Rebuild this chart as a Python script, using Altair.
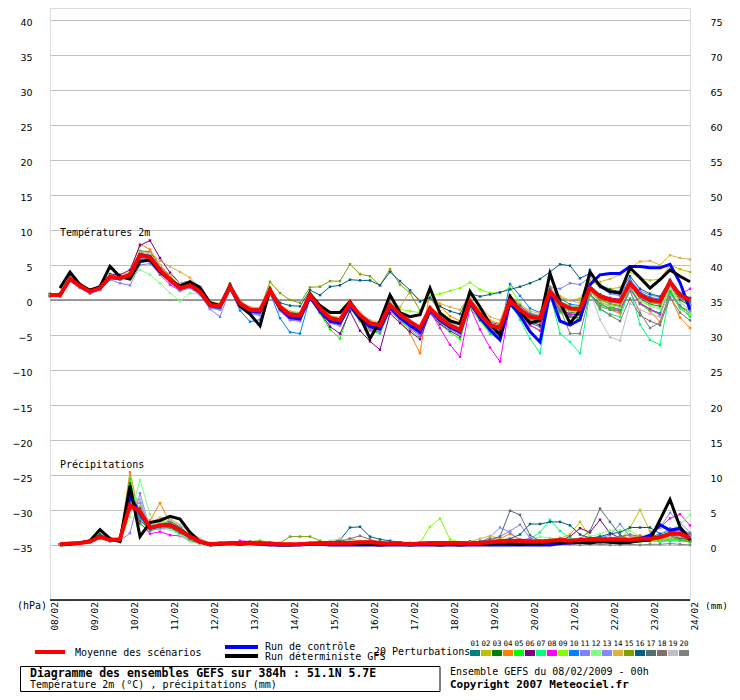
import altair as alt
import pandas as pd

# ---------------- data ----------------
HOURS = list(range(0, 385, 6))            # 08/02 00h ... 24/02 00h, every 6 h
DAY_TICKS = list(range(0, 385, 24))
DAY_LABELS = ["08/02", "09/02", "10/02", "11/02", "12/02", "13/02", "14/02", "15/02",
              "16/02", "17/02", "18/02", "19/02", "20/02", "21/02", "22/02", "23/02", "24/02"]
LEFT_TICKS = list(range(-35, 41, 5))
PRECIP_BASE = -35                         # 0 mm sits on the -35 line

MEMBERS = ["01", "02", "03", "04", "05", "06", "07", "08", "09", "10",
           "11", "12", "13", "14", "15", "16", "17", "18", "19", "20"]
MEMBER_COLORS = ["#008080", "#c0c000", "#008000", "#ff8000", "#00ff00",
                 "#800080", "#00ff80", "#ff00ff", "#80ff00", "#0080ff",
                 "#8080ff", "#80ff80", "#8888f8", "#e0b040", "#80a000",
                 "#006080", "#507070", "#807070", "#c0c0c0", "#808080"]

# temperature 2m (deg C), 65 values from 0 h
MEAN_T = [0.7, 0.7, 3.0, 2.0, 1.2, 1.7, 3.3, 3.1, 3.6, 6.4, 6.1, 4.3, 2.9, 1.7, 2.1,
          1.2, -0.7, -0.9, 1.9, -0.5, -1.4, -1.5, 1.4, -1.0, -2.1, -2.2, 0.7, -1.2, -2.6, -2.9,
          -0.4, -2.2, -3.3, -3.6, -0.7, -2.1, -3.1, -4.0, -1.2, -2.6, -3.6, -4.3, -0.2, -2.1, -3.6,
          -4.0, -0.1, -1.4, -2.4, -2.6, 1.2, -0.5, -1.2, -1.3, 1.7, 0.5, 0.0, -0.2, 2.4, 0.7,
          0.0, -0.2, 2.6, 0.7, 0.0]
CTRL_T = [0.7, 0.7, 3.0, 2.0, 1.2, 1.7, 3.3, 3.1, 3.6, 6.5, 6.2, 4.4, 2.9, 1.7, 2.1,
          1.1, -0.8, -1.0, 1.8, -0.7, -1.6, -1.7, 1.3, -1.2, -2.5, -2.7, 0.4, -1.6, -3.0, -3.3,
          -0.8, -2.7, -3.8, -4.1, -1.1, -2.5, -3.6, -4.6, -1.4, -2.9, -3.9, -4.6, -0.4, -2.5, -4.3,
          -5.7, -0.4, -2.2, -4.5, -6.0, 1.0, -3.0, -3.6, -2.8, 2.2, 3.6, 3.8, 3.8, 4.8, 4.8,
          4.6, 4.6, 5.1, 2.5, -1.4]
# deterministic GFS starts at 6 h (64 values)
DET_T = [1.7, 4.0, 2.2, 1.4, 1.9, 4.8, 3.3, 3.0, 5.5, 5.7, 4.0, 2.9, 2.0, 2.6,
         1.8, -0.4, -0.8, 2.1, -0.9, -2.0, -3.7, 1.5, -1.2, -2.0, -2.2, 0.9, -0.8, -1.8, -1.8,
         -0.2, -2.4, -5.5, -3.0, 0.7, -1.8, -2.4, -2.1, 1.7, -1.9, -3.0, -3.4, 1.2, -1.0, -3.4,
         -5.0, 0.5, -1.6, -3.3, -2.9, 3.8, -0.3, -3.3, -1.5, 4.0, 2.0, 1.2, 1.0, 4.6, 3.2,
         1.7, 2.9, 4.3, 3.4, 2.6]

T01 = [0.9, 0.8, 3.2, 2.1, 1.3, 1.9, 3.6, 3.2, 3.8, 6.8, 6.5, 4.6, 3.1, 1.9, 2.4,
       1.4, -0.5, -0.8, 2.1, -0.3, -1.3, -1.6, 1.5, -0.8, -2.0, -2.4, 0.6, -1.5, -3.0, -3.3,
       -0.9, -2.8, -4.0, -4.3, -1.2, -2.6, -3.5, -4.6, -1.5, -3.1, -4.0, -4.8, -0.5, -2.6, -4.2,
       -4.9, -0.8, -2.0, -3.3, -3.8, 0.3, -1.5, -2.2, -2.6, 0.8, -0.5, -1.2, -1.6, 1.5, -0.4,
       -1.3, -1.9, 1.2, -0.8, -2.0]
T02 = [0.6, 0.7, 2.9, 1.9, 1.0, 1.6, 3.2, 3.0, 3.5, 6.6, 6.3, 4.4, 2.8, 1.6, 2.0,
       1.0, -0.9, -1.1, 1.8, -0.6, -1.7, -1.8, 1.2, -1.3, -2.5, -2.6, 0.4, -1.6, -3.2, -3.4,
       -0.8, -2.7, -3.9, -4.2, -1.0, -2.4, -3.4, -4.4, -1.4, -2.8, -3.8, -4.5, -0.3, -2.2, -3.8,
       -4.2, -0.3, -1.2, -2.0, -2.4, 1.5, 0.3, 0.0, 0.2, 2.8, 1.9, 1.6, 1.8, 4.0, 3.1,
       2.8, 3.0, 5.0, 4.4, 4.0]
T03 = [0.8, 0.6, 3.1, 2.2, 1.4, 1.8, 3.4, 3.3, 3.9, 7.0, 6.9, 4.9, 3.4, 2.0, 2.5,
       1.6, -0.4, -0.6, 2.3, -0.2, -1.1, -1.3, 1.7, -0.7, -1.8, -1.9, 0.9, -0.9, -2.3, -2.7,
       -0.6, -2.5, -3.6, -3.9, -0.9, -2.3, -3.3, -4.3, -1.0, -2.4, -3.4, -4.0, 0.3, -1.7, -3.2,
       -3.5, 0.2, -1.1, -2.3, -2.8, 1.0, -0.9, -1.7, -2.0, 1.9, 0.2, -0.6, -0.9, 2.2, 0.2,
       -0.6, -0.9, 2.1, 0.0, -0.8]
T04 = [0.7, 0.8, 3.3, 2.0, 1.1, 1.8, 3.5, 3.4, 4.0, 8.0, 7.2, 5.0, 3.3, 2.0, 2.3,
       1.2, -0.8, -1.0, 1.8, -0.7, -1.6, -1.6, 1.4, -1.1, -2.3, -2.5, 0.5, -1.4, -2.9, -3.2,
       -0.5, -2.4, -3.6, -4.0, -1.1, -3.0, -4.8, -7.6, 1.4, -0.8, -2.3, -3.0, 0.2, -1.5, -2.9,
       -3.4, 0.3, -1.0, -2.2, -2.6, 0.9, -0.8, -1.5, -1.8, 1.3, -0.3, -1.4, -1.9, 1.7, -0.5,
       -1.6, -3.1, 0.5, -2.5, -4.0]
T05 = [0.6, 0.5, 2.8, 1.8, 1.0, 1.5, 3.1, 2.9, 3.4, 6.2, 6.0, 4.1, 2.7, 1.5, 1.9,
       1.0, -1.0, -1.2, 1.7, -0.8, -1.8, -1.9, 1.1, -1.3, -2.6, -2.9, 0.2, -1.9, -4.2, -5.5,
       -1.2, -3.0, -4.4, -4.8, -1.6, -2.9, -4.2, -5.4, -1.8, -3.5, -4.6, -5.6, -1.1, -3.0, -4.8,
       -5.6, -0.9, -2.2, -3.6, -4.3, 0.2, -1.8, -2.4, -2.7, 0.6, -0.7, -1.2, -1.3, 1.6, -0.6,
       -1.5, -2.0, 1.5, -1.0, -2.4]
T06 = [0.8, 0.9, 3.4, 2.3, 1.5, 2.0, 3.7, 3.6, 4.3, 7.8, 8.5, 6.0, 3.9, 2.4, 2.7,
       1.7, -0.3, -0.7, 2.0, -0.4, -1.3, -1.4, 1.5, -1.0, -2.2, -2.3, 0.5, -1.8, -3.8, -4.8,
       -1.6, -4.4, -5.9, -7.1, -1.9, -3.3, -4.5, -5.6, -1.9, -3.4, -4.4, -5.2, -0.6, -2.8, -4.3,
       -5.0, -0.6, -1.9, -3.0, -3.6, 0.6, -1.2, -2.0, -2.1, 1.3, 0.8, 0.3, 0.1, 2.6, 1.0,
       0.2, 0.0, 2.4, 0.4, -0.7]
T07 = [0.7, 0.6, 2.9, 2.0, 1.2, 1.7, 3.3, 3.0, 3.5, 6.1, 5.8, 4.2, 2.8, 1.6, 2.0,
       1.1, -0.8, -1.0, 1.8, -0.6, -1.5, -1.6, 1.2, -1.1, -2.3, -2.4, 0.5, -1.4, -2.8, -3.1,
       -0.7, -2.5, -3.6, -4.0, -1.0, -2.4, -3.4, -4.3, -1.5, -2.9, -3.9, -4.6, -0.7, -2.6, -4.1,
       -4.6, -0.3, -2.8, -5.5, -7.6, 0.9, -4.8, -6.0, -7.6, 1.0, -1.4, -2.0, -2.4, 1.5, -3.5,
       -5.7, -6.4, 1.0, -1.2, -2.2]
T08 = [0.7, 0.7, 3.0, 2.1, 1.3, 1.6, 3.2, 3.0, 3.3, 5.9, 5.4, 3.6, 2.2, 1.3, 1.8,
       0.9, -1.1, -1.3, 1.6, -0.8, -1.8, -2.0, 1.0, -1.5, -2.8, -3.0, 0.3, -1.7, -3.2, -3.6,
       -0.6, -2.8, -4.2, -4.6, -1.3, -2.8, -4.0, -5.1, -1.6, -4.0, -6.4, -8.1, -1.0, -4.2, -6.8,
       -8.8, -0.6, -2.3, -3.6, -4.4, 0.5, -1.3, -2.0, -2.2, 1.4, -0.2, -0.9, -1.4, 1.8, -0.5,
       -1.3, -2.1, 1.9, 0.8, 1.6]
T09 = [0.6, 0.7, 2.9, 1.9, 1.1, 1.7, 3.2, 3.1, 3.6, 6.5, 6.2, 4.4, 3.0, 1.8, 2.2,
       1.3, -0.6, -0.9, 1.9, -0.5, -1.4, -1.5, 1.5, -0.9, -2.0, -2.1, 0.8, -1.1, -2.4, -2.8,
       -0.3, -2.0, -3.1, -3.4, -0.4, -1.3, -1.6, -1.8, 0.6, 0.9, 1.3, 1.7, 2.5, 1.5, 1.0,
       1.0, 1.8, -0.5, -1.8, -2.3, 1.4, -0.2, -0.8, -1.0, 1.9, 0.1, -0.6, -0.8, 2.1, -0.1,
       -0.9, -1.2, 1.8, -1.0, -2.0]
T10 = [0.5, 0.6, 2.8, 1.8, 1.0, 1.5, 3.0, 2.9, 3.4, 6.3, 5.9, 4.0, 2.6, 1.4, 1.9,
       0.9, -1.0, -1.3, 1.6, -1.5, -3.1, -2.8, 1.0, -2.6, -4.6, -4.8, 0.3, -1.6, -3.0, -3.3,
       -0.8, -2.6, -3.7, -4.0, -1.1, -2.5, -3.6, -4.5, -1.3, -2.7, -3.8, -4.5, -0.4, -2.3, -3.9,
       -4.4, 2.3, 0.6, -1.2, -1.8, 1.6, 0.2, -0.6, -0.8, 4.3, 2.0, 1.2, 0.8, 3.0, 1.1,
       0.4, 0.1, 2.7, 0.9, 0.2]
T11 = [0.6, 0.5, 2.7, 1.7, 0.9, 1.4, 2.9, 2.4, 2.1, 5.0, 5.2, 3.8, 2.5, 1.3, 1.7,
       0.7, -1.3, -2.4, 1.5, -0.9, -1.9, -2.1, 1.1, -1.4, -2.6, -2.7, 0.4, -1.5, -2.9, -3.2,
       -0.5, -2.4, -3.5, -3.9, -0.6, -2.2, -3.2, -4.1, -1.0, -2.4, -3.4, -4.1, 0.1, -1.8, -3.3,
       -3.8, 0.5, -0.9, -1.9, -2.2, 1.8, 1.6, 2.4, 2.2, 3.3, 1.8, 0.9, 0.6, 2.9, 1.3,
       0.7, 0.4, 2.8, 1.0, 0.1]
T12 = [0.8, 0.7, 3.1, 2.0, 1.2, 1.8, 4.8, 3.4, 3.0, 4.3, 3.6, 2.4, 1.0, -0.2, 1.0,
       0.8, -0.9, -1.1, 1.6, -0.7, -1.6, -1.7, 1.3, -1.1, -2.3, -2.4, 0.5, -1.3, -2.7, -3.0,
       -0.5, -2.3, -3.4, -3.7, -0.7, -2.2, -3.2, -4.1, -1.2, -2.6, -3.6, -4.3, -0.3, -2.2, -3.7,
       -4.1, -0.3, -1.6, -2.7, -3.0, 0.7, -1.0, -1.6, -1.8, 1.2, -0.2, -0.8, -1.1, 1.9, 0.0,
       -0.8, -1.3, 1.6, -0.3, -1.5]
T13 = [0.6, 0.6, 2.9, 1.9, 1.1, 1.6, 3.2, 3.0, 3.5, 6.0, 5.7, 4.0, 2.6, 1.4, 1.8,
       0.9, -1.2, -1.4, 1.5, -1.0, -2.0, -2.2, 0.9, -1.6, -2.9, -3.0, 0.1, -1.8, -3.3, -3.7,
       -1.0, -3.0, -4.1, -4.5, -1.4, -2.9, -3.9, -4.9, -1.7, -3.2, -4.2, -5.0, -0.8, -2.7, -4.3,
       -4.8, -0.2, -1.5, -2.8, -3.1, 1.4, -0.8, -1.4, -1.5, 2.0, 0.4, -0.3, -0.5, 2.3, 0.4,
       -0.4, -0.6, 2.3, 0.4, -0.7]
T14 = [0.9, 0.9, 3.2, 2.2, 1.4, 1.9, 3.5, 3.3, 3.9, 6.9, 6.8, 5.6, 4.8, 4.0, 3.2,
       1.8, -0.2, -0.5, 2.1, -0.2, -1.0, -1.1, 1.8, -0.6, -1.6, -1.8, 0.9, -1.0, -2.2, -2.5,
       -0.1, -1.8, -2.9, -3.2, -0.3, -1.0, 1.2, 0.0, 0.4, -0.5, -1.0, -1.4, 0.8, -0.9, -2.4,
       -2.9, 0.7, -0.6, -1.6, -1.9, 1.9, 0.6, -0.1, -0.4, 2.5, 2.6, 3.0, 3.6, 4.6, 5.5,
       5.6, 5.0, 6.4, 6.0, 5.8]
T15 = [0.7, 0.8, 3.0, 2.1, 1.3, 1.8, 3.4, 3.2, 3.7, 6.6, 6.3, 4.5, 3.0, 1.8, 2.2,
       1.3, -0.6, -0.8, 2.0, -0.4, -1.3, -1.4, 2.6, 1.0, 0.0, -0.4, 1.8, 1.9, 2.7, 2.7,
       5.1, 3.7, 3.4, 2.1, 4.4, 2.2, 1.0, -1.5, 0.3, -1.6, -2.8, -3.4, -0.1, -2.0, -3.3,
       -3.9, -0.5, -1.7, -2.6, -2.9, 0.9, -0.8, -1.4, -1.6, 1.6, 0.0, -0.5, -0.8, 2.2, 0.6,
       -0.3, -0.6, 2.4, 0.8, -0.4]
T16 = [0.8, 0.7, 3.1, 2.0, 1.2, 1.7, 3.3, 3.1, 3.6, 6.4, 6.0, 4.2, 2.8, 1.7, 2.1,
       1.2, -0.7, -0.9, 1.9, -0.4, -1.2, -1.3, 1.6, -0.4, -0.8, -0.9, 1.4, 0.7, 1.9, 2.1,
       2.9, 2.8, 2.8, 2.1, 4.0, 2.7, 1.4, -0.2, 0.3, -0.9, -1.6, -2.0, 0.9, 0.5, 0.8,
       1.1, 1.5, 1.9, 2.4, 3.0, 4.0, 5.1, 4.9, 3.1, 3.8, 2.2, 1.5, 1.2, 3.4, 1.6,
       0.9, 0.5, 2.9, 1.0, 0.3]
T17 = [0.7, 0.7, 3.0, 2.0, 1.2, 1.7, 3.3, 3.1, 3.6, 6.3, 6.1, 4.3, 2.9, 1.7, 2.0,
       1.1, -0.8, -1.0, 1.8, -0.6, -1.5, -1.6, 1.3, -1.2, -2.3, -2.5, 0.4, -1.5, -2.9, -3.2,
       -0.7, -2.6, -3.8, -4.1, -1.0, -2.4, -3.5, -4.4, -1.3, -2.8, -3.8, -4.5, 0.0, -2.0, -3.5,
       -3.9, 0.6, -0.8, -2.0, -2.4, 1.5, -0.2, -1.0, -1.2, 2.1, 0.8, 0.2, -0.1, 2.6, 0.9,
       0.1, -0.2, 2.7, 0.8, -0.2]
T18 = [0.6, 0.6, 2.9, 1.9, 1.1, 1.6, 3.2, 3.0, 3.5, 6.2, 5.9, 4.1, 2.7, 1.5, 1.9,
       1.0, -0.9, -1.1, 1.7, -0.7, -1.6, -1.7, 1.2, -1.2, -2.4, -2.6, 0.4, -1.6, -3.0, -3.4,
       -0.8, -2.7, -3.9, -4.3, -1.2, -2.7, -3.8, -4.7, -1.6, -3.0, -4.0, -4.7, -0.4, -2.4, -4.0,
       -4.5, -0.4, -1.8, -2.9, -3.3, 1.1, -1.5, -2.4, -2.9, 0.8, -1.2, -2.2, -3.0, 0.2, -2.2,
       -3.0, -3.6, 0.4, -1.8, -2.9]
T19 = [0.7, 0.8, 3.1, 2.1, 1.3, 1.8, 3.4, 3.3, 3.8, 6.7, 6.6, 4.9, 3.6, 2.4, 2.6,
       1.5, -0.4, -0.7, 2.0, -0.3, -1.2, -1.3, 1.6, -0.8, -1.9, -2.0, 0.8, -1.0, -2.4, -2.7,
       -0.2, -2.0, -3.1, -3.4, -0.5, -1.9, -2.9, -3.8, -0.9, -2.2, -3.2, -3.9, 0.2, -1.8, -3.3,
       -3.7, 0.1, -1.2, -2.3, -2.6, 1.3, -0.5, -1.3, -1.5, 1.2, -2.8, -5.3, -5.8, -0.5, -1.4,
       -2.0, -2.4, 1.9, -0.3, -1.4]
T20 = [0.6, 0.6, 2.9, 1.8, 1.0, 1.6, 3.2, 3.0, 3.6, 6.5, 6.2, 4.5, 3.1, 1.9, 2.3,
       1.2, -0.7, -0.9, 1.8, -0.6, -1.4, -1.5, 1.4, -1.1, -2.2, -2.3, 0.6, -1.3, -2.7, -3.0,
       -0.5, -2.3, -3.4, -3.7, -0.8, -2.2, -3.2, -4.1, -1.2, -2.6, -3.6, -4.2, -0.2, -2.1, -3.6,
       -4.1, -0.2, -1.5, -2.6, -2.9, 1.9, -1.2, -4.8, -4.8, 0.9, -0.9, -1.4, -1.6, 1.3, -1.8,
       -4.0, -3.2, 1.1, -0.9, -1.6]

# precipitation (mm per 6 h), 64 values from 6 h
MEAN_P = [0.1, 0.2, 0.3, 0.5, 1.2, 0.7, 0.8, 5.7, 4.8, 2.5, 2.8, 2.9, 2.1, 1.2,
          0.5, 0.1, 0.2, 0.3, 0.3, 0.3, 0.2, 0.2, 0.1, 0.1, 0.1, 0.2, 0.3, 0.3,
          0.3, 0.3, 0.4, 0.4, 0.3, 0.2, 0.2, 0.1, 0.2, 0.3, 0.3, 0.3, 0.3, 0.2,
          0.3, 0.4, 0.5, 0.6, 0.6, 0.5, 0.5, 0.6, 0.7, 0.6, 0.7, 0.8, 0.8, 0.8,
          0.8, 0.7, 0.9, 0.9, 1.1, 1.6, 1.6, 1.0]
CTRL_P = [0.1, 0.2, 0.3, 0.5, 1.3, 0.7, 0.8, 7.0, 4.5, 2.4, 2.8, 2.9, 2.2, 1.2,
          0.4, 0.1, 0.2, 0.2, 0.2, 0.2, 0.1, 0.0, 0.0, 0.0, 0.0, 0.1, 0.1, 0.0,
          0.0, 0.0, 0.0, 0.0, 0.0, 0.0, 0.0, 0.0, 0.0, 0.0, 0.0, 0.0, 0.0, 0.0,
          0.0, 0.0, 0.0, 0.0, 0.0, 0.0, 0.0, 0.0, 0.2, 0.3, 0.4, 0.5, 0.6, 0.6,
          0.7, 0.8, 0.9, 1.4, 2.9, 2.1, 2.4, 0.8]
DET_P = [0.0, 0.1, 0.3, 0.6, 2.2, 0.9, 0.5, 8.5, 1.2, 3.2, 3.5, 4.1, 3.7, 1.8,
         0.5, 0.0, 0.1, 0.2, 0.1, 0.2, 0.3, 0.1, 0.0, 0.0, 0.1, 0.1, 0.2, 0.1,
         0.1, 0.1, 0.2, 0.1, 0.0, 0.1, 0.1, 0.0, 0.1, 0.1, 0.0, 0.1, 0.0, 0.1,
         0.1, 0.2, 0.3, 0.2, 0.1, 0.3, 0.2, 0.4, 0.3, 0.5, 0.4, 0.3, 0.5, 0.4,
         0.3, 0.4, 0.6, 0.7, 3.6, 6.5, 2.6, 0.7]
P01 = [0.1, 0.2, 0.4, 0.6, 1.4, 0.8, 0.9, 7.5, 4.0, 2.3, 2.7, 3.1, 2.0, 1.0,
       0.4, 0.1, 0.2, 0.3, 0.2, 0.3, 0.2, 0.1, 0.1, 0.1, 0.2, 0.3, 0.2, 0.3,
       0.2, 0.4, 0.3, 0.3, 0.2, 0.1, 0.2, 0.1, 0.2, 0.2, 0.3, 0.2, 0.4, 0.3,
       0.3, 0.4, 0.6, 0.8, 0.5, 0.4, 0.3, 0.5, 1.0, 0.6, 0.4, 0.6, 0.5, 0.7,
       0.5, 0.6, 0.8, 0.7, 1.0, 1.5, 1.2, 0.8]
P02 = [0.1, 0.1, 0.3, 0.4, 1.0, 0.6, 0.7, 6.0, 5.5, 2.6, 3.0, 2.8, 2.2, 1.3,
       0.5, 0.1, 0.1, 0.2, 0.3, 0.2, 0.2, 0.2, 0.1, 0.1, 0.1, 0.2, 0.3, 0.2,
       0.3, 0.3, 0.2, 0.3, 0.2, 0.2, 0.1, 0.2, 0.1, 0.2, 0.2, 0.3, 0.3, 0.2,
       0.3, 0.2, 0.4, 0.5, 0.4, 0.6, 0.5, 0.7, 0.9, 1.5, 3.3, 1.2, 0.6, 0.5,
       0.6, 2.5, 5.0, 2.0, 0.8, 0.6, 0.9, 0.7]
P03 = [0.1, 0.2, 0.3, 0.6, 1.6, 0.7, 0.6, 8.8, 3.5, 2.2, 3.0, 3.4, 2.6, 1.4,
       0.6, 0.2, 0.2, 0.4, 0.3, 0.3, 0.2, 0.1, 0.1, 0.2, 0.1, 0.2, 0.4, 0.3,
       0.3, 0.2, 0.3, 0.4, 0.3, 0.2, 0.2, 0.1, 0.3, 0.4, 0.3, 0.2, 0.2, 0.3,
       0.4, 0.5, 0.4, 0.6, 0.7, 0.5, 0.4, 0.5, 0.6, 0.7, 0.5, 0.9, 0.7, 0.6,
       0.7, 0.5, 0.6, 0.8, 0.7, 1.2, 1.0, 0.6]
P04 = [0.1, 0.2, 0.3, 0.4, 1.2, 0.8, 0.9, 10.4, 3.8, 3.5, 6.0, 3.2, 2.1, 1.2,
       0.4, 0.1, 0.2, 0.2, 0.2, 0.3, 0.3, 0.2, 0.1, 0.1, 0.1, 0.2, 0.3, 0.4,
       0.6, 0.9, 0.5, 0.4, 0.3, 0.2, 0.2, 0.1, 0.2, 0.3, 0.4, 0.3, 0.3, 0.2,
       0.3, 0.5, 0.9, 1.6, 0.8, 0.5, 0.4, 0.4, 0.6, 0.5, 0.6, 0.7, 0.5, 0.4,
       0.6, 1.0, 1.4, 0.9, 0.7, 0.8, 0.6, 0.5]
P05 = [0.1, 0.2, 0.2, 0.5, 1.3, 0.6, 0.8, 9.5, 3.0, 2.0, 2.4, 2.6, 1.8, 0.9,
       0.3, 0.0, 0.1, 0.2, 0.3, 0.2, 0.1, 0.1, 0.0, 0.1, 0.1, 0.1, 0.2, 0.2,
       0.1, 0.2, 0.2, 0.2, 0.1, 0.1, 0.0, 0.1, 0.1, 0.2, 0.1, 0.2, 0.1, 0.2,
       0.2, 0.3, 0.3, 0.4, 0.2, 0.3, 0.2, 0.3, 0.4, 0.3, 0.5, 0.4, 0.3, 0.3,
       0.4, 0.3, 0.5, 0.6, 0.5, 0.7, 0.6, 0.4]
P06 = [0.1, 0.1, 0.3, 0.5, 1.1, 0.7, 0.7, 5.0, 5.2, 2.4, 2.6, 2.7, 2.0, 1.1,
       0.5, 0.1, 0.2, 0.3, 0.2, 0.2, 0.2, 0.1, 0.1, 0.0, 0.1, 0.2, 0.2, 0.2,
       0.1, 0.2, 0.3, 0.2, 0.1, 0.1, 0.1, 0.1, 0.2, 0.1, 0.2, 0.2, 0.3, 0.2,
       0.2, 0.3, 0.4, 0.5, 0.3, 0.4, 0.4, 0.5, 0.6, 1.2, 2.4, 1.8, 3.6, 1.7,
       1.0, 0.6, 0.7, 0.9, 1.2, 1.8, 2.2, 1.5]
P07 = [0.1, 0.2, 0.3, 0.4, 1.0, 0.6, 0.7, 8.0, 6.0, 2.8, 2.6, 2.4, 1.5, 0.7,
       0.2, 0.0, 0.1, 0.1, 0.2, 0.2, 0.1, 0.1, 0.0, 0.1, 0.1, 0.2, 0.1, 0.2,
       0.2, 0.3, 0.2, 0.2, 0.2, 0.1, 0.1, 0.0, 0.1, 0.2, 0.2, 0.2, 0.2, 0.3,
       0.3, 0.4, 0.3, 0.5, 0.6, 0.9, 1.8, 3.6, 2.0, 1.0, 0.8, 0.6, 0.5, 0.4,
       0.6, 0.5, 0.4, 0.7, 0.5, 0.6, 0.7, 0.5]
P08 = [0.1, 0.2, 0.3, 0.5, 1.1, 0.7, 0.9, 7.0, 3.2, 1.6, 1.9, 1.4, 1.3, 0.6,
       0.2, 0.1, 0.3, 0.2, 0.6, 0.5, 0.3, 0.1, 0.1, 0.1, 0.1, 0.1, 0.2, 0.1,
       0.1, 0.1, 0.0, 0.1, 0.2, 0.3, 0.4, 0.1, 0.1, 0.1, 0.2, 0.2, 0.2, 0.2,
       0.2, 0.4, 0.3, 0.6, 0.7, 0.9, 0.6, 0.5, 0.4, 0.6, 0.5, 0.4, 0.6, 0.8,
       0.7, 0.6, 0.9, 1.3, 2.5, 3.8, 4.4, 2.8]
P09 = [0.0, 0.1, 0.2, 0.4, 1.0, 0.5, 0.7, 6.5, 4.5, 2.9, 3.3, 3.0, 2.3, 1.5,
       0.6, 0.2, 0.2, 0.2, 0.2, 0.3, 0.2, 0.1, 0.1, 0.1, 0.2, 0.1, 0.3, 0.2,
       0.2, 0.2, 0.2, 0.1, 0.1, 0.0, 0.1, 0.1, 0.3, 2.6, 3.8, 0.8, 0.4, 0.3,
       0.3, 0.4, 0.5, 0.5, 0.4, 0.4, 0.3, 0.4, 0.5, 0.4, 0.6, 0.5, 0.4, 0.5,
       0.4, 0.6, 0.5, 0.5, 0.8, 1.0, 0.9, 0.6]
P10 = [0.1, 0.2, 0.3, 0.5, 1.2, 0.8, 0.8, 6.8, 3.9, 2.1, 2.6, 3.1, 2.5, 1.3,
       0.5, 0.1, 0.2, 0.3, 0.3, 0.2, 0.1, 0.1, 0.0, 0.1, 0.1, 0.1, 0.2, 0.1,
       0.1, 0.2, 0.2, 0.3, 0.2, 0.1, 0.1, 0.1, 0.1, 0.2, 0.2, 0.1, 0.2, 0.2,
       0.3, 0.5, 0.4, 0.7, 0.6, 0.5, 0.6, 0.7, 0.5, 0.4, 0.6, 0.8, 1.2, 0.9,
       0.8, 0.7, 0.9, 1.1, 1.6, 2.0, 1.8, 1.2]
P11 = [0.1, 0.1, 0.2, 0.4, 0.9, 0.5, 0.6, 1.7, 7.4, 2.2, 2.3, 2.5, 1.9, 1.0,
       0.4, 0.1, 0.1, 0.2, 0.2, 0.3, 0.2, 0.2, 0.1, 0.0, 0.1, 0.2, 0.2, 0.3,
       0.2, 0.3, 0.3, 0.2, 0.2, 0.1, 0.2, 0.1, 0.2, 0.2, 0.3, 0.3, 0.2, 0.3,
       0.4, 0.6, 1.2, 2.0, 2.9, 1.0, 0.5, 0.6, 0.5, 0.7, 0.6, 0.8, 1.0, 1.4,
       3.0, 1.2, 0.9, 1.4, 2.5, 4.6, 3.2, 1.8]
P12 = [0.1, 0.1, 0.2, 0.4, 1.0, 0.6, 0.8, 4.0, 9.3, 4.4, 2.3, 2.2, 1.4, 0.5,
       0.1, 0.1, 0.1, 0.2, 0.2, 0.3, 0.2, 0.1, 0.1, 0.1, 0.2, 0.2, 0.2, 0.2,
       0.2, 0.1, 0.2, 0.2, 0.1, 0.1, 0.2, 0.1, 0.2, 0.2, 0.3, 0.3, 0.2, 0.3,
       0.3, 0.3, 0.4, 0.5, 0.4, 0.6, 1.2, 1.0, 0.8, 0.7, 0.9, 1.2, 1.6, 2.1,
       2.1, 2.0, 1.2, 1.0, 1.3, 2.0, 3.0, 4.3]
P13 = [0.1, 0.2, 0.3, 0.5, 1.2, 0.8, 0.7, 5.5, 6.0, 2.7, 2.4, 2.9, 2.1, 1.1,
       0.5, 0.2, 0.2, 0.3, 0.3, 0.2, 0.2, 0.1, 0.1, 0.1, 0.1, 0.2, 0.3, 0.2,
       0.3, 0.3, 0.2, 0.2, 0.3, 0.2, 0.1, 0.2, 0.1, 0.2, 0.2, 0.3, 0.3, 0.3,
       0.4, 1.1, 2.5, 1.8, 0.7, 0.5, 0.4, 0.5, 0.4, 0.6, 0.7, 0.9, 0.8, 1.0,
       1.2, 0.8, 0.7, 0.9, 1.5, 2.4, 2.0, 1.4]
P14 = [0.1, 0.2, 0.4, 0.6, 1.3, 0.9, 1.0, 6.2, 4.8, 3.2, 3.9, 3.8, 2.9, 1.8,
       0.8, 0.3, 0.2, 0.3, 0.2, 0.3, 0.2, 0.2, 0.1, 0.1, 0.2, 0.2, 0.3, 0.3,
       0.4, 0.3, 0.6, 0.7, 0.5, 0.3, 0.2, 0.1, 0.2, 0.3, 0.4, 0.5, 0.4, 0.5,
       0.9, 1.3, 0.9, 0.7, 0.6, 0.5, 0.6, 0.7, 0.5, 0.6, 0.8, 0.7, 0.6, 0.9,
       1.1, 1.4, 1.0, 0.8, 0.9, 1.2, 1.3, 1.0]
P15 = [0.1, 0.2, 0.3, 0.5, 1.1, 0.7, 0.8, 6.6, 4.2, 2.5, 2.9, 2.7, 2.0, 1.0,
       0.3, 0.1, 0.2, 0.2, 0.3, 0.5, 0.6, 0.4, 0.3, 1.2, 1.2, 1.2, 0.6, 0.3,
       0.2, 0.3, 0.3, 0.2, 0.3, 0.2, 0.2, 0.1, 0.2, 0.2, 0.3, 0.2, 0.3, 0.2,
       0.3, 0.4, 0.3, 0.5, 0.4, 0.4, 0.3, 0.5, 0.4, 0.5, 0.6, 0.5, 0.4, 0.6,
       0.5, 0.7, 0.8, 0.6, 0.9, 1.1, 0.8, 0.5]
P16 = [0.1, 0.2, 0.3, 0.5, 1.2, 0.8, 0.8, 7.2, 4.4, 2.6, 2.8, 2.6, 1.9, 1.1,
       0.4, 0.1, 0.1, 0.2, 0.2, 0.2, 0.2, 0.1, 0.1, 0.1, 0.1, 0.2, 0.3, 0.4,
       0.7, 2.5, 2.6, 1.2, 0.8, 0.6, 0.4, 0.3, 0.2, 0.3, 0.3, 0.4, 0.4, 0.5,
       0.5, 0.6, 0.7, 0.9, 1.5, 3.0, 3.0, 3.3, 3.3, 2.8, 1.5, 1.0, 1.2, 1.6,
       1.8, 2.5, 2.5, 2.5, 1.6, 1.2, 1.0, 0.8]
P17 = [0.1, 0.2, 0.3, 0.5, 1.3, 0.7, 0.8, 6.3, 4.9, 2.7, 2.7, 2.5, 1.7, 0.9,
       0.3, 0.1, 0.2, 0.2, 0.2, 0.2, 0.1, 0.1, 0.1, 0.1, 0.1, 0.1, 0.2, 0.2,
       0.2, 0.2, 0.3, 0.2, 0.2, 0.1, 0.1, 0.1, 0.2, 0.2, 0.2, 0.3, 0.3, 0.4,
       0.5, 0.8, 1.2, 4.9, 4.3, 1.4, 0.6, 0.5, 0.6, 0.7, 0.9, 2.0, 5.2, 3.3,
       1.4, 0.8, 0.9, 0.7, 1.0, 1.3, 1.1, 0.7]
P18 = [0.1, 0.2, 0.3, 0.5, 1.1, 0.7, 0.9, 5.8, 4.6, 2.5, 2.6, 2.8, 2.3, 1.3,
       0.5, 0.2, 0.3, 0.3, 0.3, 0.3, 0.2, 0.2, 0.2, 0.1, 0.2, 0.3, 0.3, 0.4,
       0.5, 0.9, 1.3, 0.8, 0.4, 0.3, 0.2, 0.2, 0.3, 0.3, 0.4, 0.3, 0.3, 0.4,
       0.4, 0.5, 0.6, 0.5, 0.6, 0.7, 0.6, 0.6, 0.8, 0.7, 0.6, 0.8, 0.9, 1.0,
       1.2, 1.5, 1.2, 0.9, 1.3, 1.8, 2.4, 1.6]
P19 = [0.1, 0.2, 0.4, 0.6, 1.2, 0.9, 1.1, 5.2, 6.5, 2.8, 3.2, 3.6, 2.8, 1.9,
       0.9, 0.3, 0.2, 0.3, 0.2, 0.3, 0.2, 0.2, 0.1, 0.2, 0.2, 0.3, 0.3, 0.6,
       0.9, 0.6, 0.5, 0.3, 0.3, 0.2, 0.2, 0.1, 0.2, 0.2, 0.2, 0.3, 0.3, 0.4,
       0.3, 0.4, 0.4, 0.5, 0.5, 0.4, 0.5, 0.6, 0.5, 0.7, 0.6, 0.7, 0.8, 0.7,
       0.9, 1.0, 0.8, 0.7, 0.9, 1.1, 1.2, 0.9]
P20 = [0.1, 0.2, 0.3, 0.5, 1.0, 0.7, 0.8, 6.0, 5.0, 2.6, 2.9, 3.2, 2.4, 1.4,
       0.5, 0.1, 0.2, 0.2, 0.2, 0.2, 0.1, 0.1, 0.1, 0.1, 0.1, 0.2, 0.3, 0.3,
       0.3, 0.3, 0.3, 0.2, 0.2, 0.2, 0.1, 0.1, 0.1, 0.1, 0.2, 0.2, 0.2, 0.1,
       0.1, 0.0, 0.0, 0.0, 0.0, 0.1, 0.0, 0.0, 0.1, 0.1, 0.0, 0.1, 0.1, 0.0,
       0.0, 0.1, 0.0, 0.1, 0.1, 0.2, 0.1, 0.0]

PERT_T = [T01, T02, T03, T04, T05, T06, T07, T08, T09, T10,
          T11, T12, T13, T14, T15, T16, T17, T18, T19, T20]
PERT_P = [P01, P02, P03, P04, P05, P06, P07, P08, P09, P10,
          P11, P12, P13, P14, P15, P16, P17, P18, P19, P20]

# texts
TXT_TEMP = "Températures 2m"
TXT_PREC = "Précipitations"
TXT_HPA = "(hPa)"
TXT_MM = "(mm)"
TXT_MEAN = "Moyenne des scénarios"
TXT_CTRL = "Run de contrôle"
TXT_DET = "Run déterministe GFS"
TXT_PERT = "20 Perturbations"
TXT_TITLE = "Diagramme des ensembles GEFS sur 384h : 51.1N 5.7E"
TXT_SUB = "Température 2m (°C) , précipitations (mm)"
TXT_RUN = "Ensemble GEFS du 08/02/2009 - 00h"
TXT_COPY = "Copyright 2007 Meteociel.fr"


# ---------------- tables ----------------
def series_rows(name, temps, t_hours, precs, p_hours):
    rows = []
    for h, v in zip(t_hours, temps):
        rows.append({"member": name, "key": name + "_T", "h": h, "v": v})
    for h, p in zip(p_hours, precs):
        rows.append({"member": name, "key": name + "_P", "h": h, "v": PRECIP_BASE + p})
    return rows


pert_rows = []
for m, tt, pp in zip(MEMBERS, PERT_T, PERT_P):
    pert_rows += series_rows(m, tt, HOURS, pp, HOURS[1:])
df_pert = pd.DataFrame(pert_rows)
df_ctrl = pd.DataFrame(series_rows("ctrl", CTRL_T, HOURS, CTRL_P, HOURS[1:]))
df_det = pd.DataFrame(series_rows("det", DET_T, HOURS[1:], DET_P, HOURS[1:]))
df_mean = pd.DataFrame(series_rows("mean", MEAN_T, HOURS, MEAN_P, HOURS[1:]))
df_sw = pd.DataFrame({"member": MEMBERS, "idx": list(range(len(MEMBERS)))})
df_days = pd.DataFrame({"h": DAY_TICKS, "lab": DAY_LABELS})

# ---------------- scales / axes ----------------
XS = alt.Scale(domain=[0, 384], nice=False, zero=False)
YS = alt.Scale(domain=[-42.857, 41.714], nice=False, zero=False)
CS = alt.Scale(domain=MEMBERS, range=MEMBER_COLORS)

x_axis = alt.Axis(values=DAY_TICKS, grid=True, gridColor="#c0c0c0", gridWidth=1,
                  ticks=False, domain=False, labels=False, title=None)
y_left = alt.Axis(values=LEFT_TICKS, grid=True, gridColor="#c0c0c0", gridWidth=1,
                  ticks=False, domain=False, labelPadding=18, labelOffset=3,
                  labelFont="DejaVu Sans", labelFontSize=9.5, labelColor="#000000",
                  labelFlush=False, title=None)
y_right = alt.Axis(orient="right", values=LEFT_TICKS, grid=False, ticks=False,
                   domain=False, labelPadding=20, labelOffset=3,
                   labelExpr="datum.value + 35", labelAlign="left",
                   labelFont="DejaVu Sans", labelFontSize=9.5, labelColor="#000000",
                   labelFlush=False, title=None)

zero = alt.Chart(pd.DataFrame({"y": [0]})).mark_rule(color="#808080", strokeWidth=1.5).encode(
    y=alt.Y("y:Q", scale=YS, axis=None))

pert = alt.Chart(df_pert).mark_line(
    strokeWidth=1, point=alt.OverlayMarkDef(filled=True, size=6, shape="square")
).encode(
    x=alt.X("h:Q", scale=XS, axis=x_axis),
    y=alt.Y("v:Q", scale=YS, axis=y_left),
    color=alt.Color("member:N", scale=CS, legend=None),
    detail="key:N",
)

ctrl = alt.Chart(df_ctrl).mark_line(strokeWidth=3, color="#0000ff").encode(
    x=alt.X("h:Q", scale=XS, axis=None),
    y=alt.Y("v:Q", scale=YS, axis=y_right),
    detail="key:N",
)
det = alt.Chart(df_det).mark_line(strokeWidth=3, color="#000000").encode(
    x=alt.X("h:Q", scale=XS, axis=None),
    y=alt.Y("v:Q", scale=YS, axis=None),
    detail="key:N",
)
mean = alt.Chart(df_mean).mark_line(strokeWidth=4, color="#ff0000").encode(
    x=alt.X("h:Q", scale=XS, axis=None),
    y=alt.Y("v:Q", scale=YS, axis=None),
    detail="key:N",
)

# date labels under the plot, rotated to read upwards
days = alt.Chart(df_days).mark_text(
    angle=270, align="right", baseline="top", font="DejaVu Sans Mono",
    fontSize=9.5, color="#000000"
).encode(x=alt.X("h:Q", scale=XS, axis=None), y=alt.value(594), text="lab:N")


def txt(s, x, y, size=10, bold=False, align="left", font="DejaVu Sans Mono"):
    return alt.Chart(pd.DataFrame({"t": [s]})).mark_text(
        align=align, baseline="middle", font=font, fontSize=size,
        fontWeight="bold" if bold else "normal", color="#000000"
    ).encode(x=alt.value(x), y=alt.value(y), text="t:N")


def hline(x1, x2, y, color, w):
    return alt.Chart(pd.DataFrame({"a": [0]})).mark_rule(color=color, strokeWidth=w).encode(
        x=alt.value(x1), x2=alt.value(x2), y=alt.value(y))


swatch = alt.Chart(df_sw).transform_calculate(
    px="420 + 11 * datum.idx", px2="430 + 11 * datum.idx"
).mark_rect().encode(
    x=alt.X("px:Q", scale=None, axis=None), x2="px2:Q",
    y=alt.value(642), y2=alt.value(648),
    color=alt.Color("member:N", scale=CS, legend=None),
)
swatch_lbl = alt.Chart(df_sw).transform_calculate(
    px="425 + 11 * datum.idx"
).mark_text(font="DejaVu Sans Mono", fontSize=7.5, baseline="middle", align="center",
            color="#000000").encode(
    x=alt.X("px:Q", scale=None, axis=None), y=alt.value(635.5), text="member:N")

box = alt.Chart(pd.DataFrame({"a": [0]})).mark_rect(
    fillOpacity=0, stroke="#000000", strokeWidth=1).encode(
    x=alt.value(-29.5), x2=alt.value(390), y=alt.value(658.5), y2=alt.value(683.5))

chart = alt.layer(
    zero, pert, ctrl, det, mean,
    hline(0, 640, 592, "#000000", 1.5), days,
    txt(TXT_TEMP, 10, 225), txt(TXT_PREC, 10, 457),
    txt(TXT_HPA, -33, 598), txt(TXT_MM, 655, 598, size=9.5),
    hline(-15, 15, 644, "#ff0000", 4), txt(TXT_MEAN, 25, 644.5),
    hline(175, 208, 639, "#0000ff", 4), hline(175, 208, 648, "#000000", 4),
    txt(TXT_CTRL, 215, 639), txt(TXT_DET, 215, 649),
    txt(TXT_PERT, 324, 644),
    swatch, swatch_lbl,
    box,
    txt(TXT_TITLE, -20, 666, size=11.5, bold=True),
    txt(TXT_SUB, -20, 677),
    txt(TXT_RUN, 400, 664),
    txt(TXT_COPY, 400, 677, size=11, bold=True),
).resolve_axis(y="independent").properties(
    width=640, height=592,
    padding={"left": 42, "right": 42, "top": 0, "bottom": 92},
    autosize=alt.AutoSizeParams(type="none"),
).configure_view(strokeWidth=0).configure(font="DejaVu Sans")

chart.save("out.html", embed_options={"renderer": "svg", "actions": False})
